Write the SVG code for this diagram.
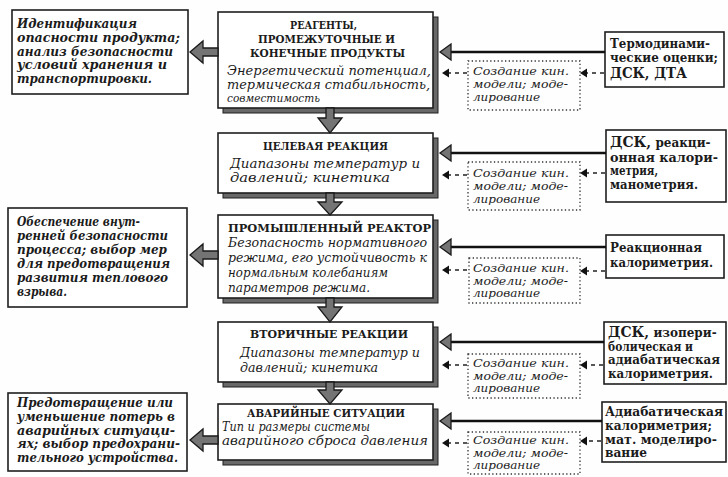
<svg xmlns="http://www.w3.org/2000/svg" width="728" height="477" viewBox="0 0 728 477">
  <style>
    text { font-family: "DejaVu Serif", "Liberation Serif", serif; fill: #1b1b1b; }
    .t { font-size: 10.5px; font-weight: bold; }
    .b { font-size: 13px; font-style: italic; }
    .l { font-size: 12px; font-style: italic; font-weight: bold; }
    .r { font-size: 12px; font-weight: bold; }
    .rb { font-size: 14.5px; font-weight: bold; }
    .m { font-size: 11.5px; font-style: italic; }
    .box { fill: #fff; stroke: #1e1e1e; stroke-width: 1.6; }
    .shadow { fill: #686868; stroke: #1e1e1e; stroke-width: 1; }
    .dot { fill: none; stroke: #333; stroke-width: 1.3; stroke-dasharray: 1.3 2.4; }
    .block { fill: #747474; stroke: #1a1a1a; stroke-width: 1.3; stroke-linejoin: miter; }
    .solid { stroke: #111; stroke-width: 2.6; fill: none; }
    .dash { stroke: #222; stroke-width: 1.6; stroke-dasharray: 4 4; fill: none; }
    .tip { fill: #111; stroke: none; }
  </style>

  <rect x="0" y="0" width="728" height="477" fill="#fefefe"/>

  <!-- Left outcome boxes -->
  <g id="left-1">
    <rect class="box" x="12" y="10" width="176" height="84"/>
    <text class="l" x="17" y="28" textLength="120" lengthAdjust="spacingAndGlyphs">Идентификация</text>
    <text class="l" x="17" y="42" textLength="163" lengthAdjust="spacingAndGlyphs">опасности продукта;</text>
    <text class="l" x="17" y="55.5" textLength="156" lengthAdjust="spacingAndGlyphs">анализ безопасности</text>
    <text class="l" x="17" y="69" textLength="150" lengthAdjust="spacingAndGlyphs">условий хранения и</text>
    <text class="l" x="17" y="83" textLength="135" lengthAdjust="spacingAndGlyphs">транспортировки.</text>
  </g>
  <g id="left-2">
    <rect class="box" x="8" y="208" width="179" height="99"/>
    <text class="l" x="17" y="226" textLength="123" lengthAdjust="spacingAndGlyphs">Обеспечение внут-</text>
    <text class="l" x="17" y="240" textLength="151" lengthAdjust="spacingAndGlyphs">ренней безопасности</text>
    <text class="l" x="17" y="254" textLength="150" lengthAdjust="spacingAndGlyphs">процесса; выбор мер</text>
    <text class="l" x="17" y="268" textLength="153" lengthAdjust="spacingAndGlyphs">для предотвращения</text>
    <text class="l" x="17" y="282" textLength="151" lengthAdjust="spacingAndGlyphs">развития теплового</text>
    <text class="l" x="17" y="296" textLength="50" lengthAdjust="spacingAndGlyphs">взрыва.</text>
  </g>
  <g id="left-3">
    <rect class="box" x="8" y="393" width="179" height="78"/>
    <text class="l" x="17" y="407" textLength="156" lengthAdjust="spacingAndGlyphs">Предотвращение или</text>
    <text class="l" x="17" y="421" textLength="158" lengthAdjust="spacingAndGlyphs">уменьшение потерь в</text>
    <text class="l" x="17" y="434.5" textLength="158" lengthAdjust="spacingAndGlyphs">аварийных ситуаци-</text>
    <text class="l" x="17" y="448" textLength="163" lengthAdjust="spacingAndGlyphs">ях; выбор предохрани-</text>
    <text class="l" x="17" y="462" textLength="161" lengthAdjust="spacingAndGlyphs">тельного устройства.</text>
  </g>

  <!-- Central chain of stages -->
  <g id="stage-reagents">
    <rect class="shadow" x="223" y="17" width="215" height="96"/>
    <rect class="box" x="218" y="12" width="215" height="96"/>
    <text class="t" x="290" y="29" textLength="67" lengthAdjust="spacingAndGlyphs">РЕАГЕНТЫ,</text>
    <text class="t" x="258" y="43" textLength="137" lengthAdjust="spacingAndGlyphs">ПРОМЕЖУТОЧНЫЕ И</text>
    <text class="t" x="250" y="57" textLength="155" lengthAdjust="spacingAndGlyphs">КОНЕЧНЫЕ ПРОДУКТЫ</text>
    <text class="b" x="227" y="75" textLength="204" lengthAdjust="spacingAndGlyphs">Энергетический потенциал,</text>
    <text class="b" x="227" y="89" textLength="203" lengthAdjust="spacingAndGlyphs">термическая стабильность,</text>
    <text class="b" x="227" y="102" textLength="93" lengthAdjust="spacingAndGlyphs" style="font-size:11.5px">совместимость</text>
  </g>
  <g id="stage-target">
    <rect class="shadow" x="223" y="138" width="215" height="60"/>
    <rect class="box" x="218" y="133" width="215" height="60"/>
    <text class="t" x="263" y="150" textLength="125" lengthAdjust="spacingAndGlyphs">ЦЕЛЕВАЯ РЕАКЦИЯ</text>
    <text class="b" x="230" y="168" textLength="190" lengthAdjust="spacingAndGlyphs">Диапазоны температур и</text>
    <text class="b" x="230" y="182" textLength="160" lengthAdjust="spacingAndGlyphs">давлений; кинетика</text>
  </g>
  <g id="stage-reactor">
    <rect class="shadow" x="223" y="220" width="215" height="83"/>
    <rect class="box" x="218" y="215" width="215" height="83"/>
    <text class="t" x="228" y="232" textLength="203" lengthAdjust="spacingAndGlyphs">ПРОМЫШЛЕННЫЙ РЕАКТОР</text>
    <text class="b" x="228" y="246.5" textLength="199" lengthAdjust="spacingAndGlyphs">Безопасность нормативного</text>
    <text class="b" x="228" y="262" textLength="199" lengthAdjust="spacingAndGlyphs">режима, его устойчивость к</text>
    <text class="b" x="228" y="277" textLength="160" lengthAdjust="spacingAndGlyphs">нормальным колебаниям</text>
    <text class="b" x="228" y="292" textLength="142" lengthAdjust="spacingAndGlyphs">параметров режима.</text>
  </g>
  <g id="stage-secondary">
    <rect class="shadow" x="223" y="327" width="215" height="60"/>
    <rect class="box" x="218" y="322" width="215" height="60"/>
    <text class="t" x="250" y="338" textLength="158" lengthAdjust="spacingAndGlyphs">ВТОРИЧНЫЕ РЕАКЦИИ</text>
    <text class="b" x="240" y="357" textLength="180" lengthAdjust="spacingAndGlyphs">Диапазоны температур и</text>
    <text class="b" x="240" y="372" textLength="138" lengthAdjust="spacingAndGlyphs">давлений; кинетика</text>
  </g>
  <g id="stage-emergency">
    <rect class="shadow" x="223" y="409" width="215" height="56"/>
    <rect class="box" x="218" y="404" width="215" height="56"/>
    <text class="t" x="247" y="417" textLength="158" lengthAdjust="spacingAndGlyphs">АВАРИЙНЫЕ СИТУАЦИИ</text>
    <text class="b" x="222" y="431" textLength="148" lengthAdjust="spacingAndGlyphs">Тип и размеры системы</text>
    <text class="b" x="222" y="445" textLength="206" lengthAdjust="spacingAndGlyphs">аварийного сброса давления</text>
  </g>

  <!-- Kinetic modelling boxes (dotted) -->
  <g id="model-1">
    <rect class="dot" x="468" y="61" width="112" height="49"/>
    <text class="m" x="473" y="75" textLength="96" lengthAdjust="spacingAndGlyphs">Создание кин.</text>
    <text class="m" x="473" y="88" textLength="95" lengthAdjust="spacingAndGlyphs">модели; моде-</text>
    <text class="m" x="473" y="101" textLength="67" lengthAdjust="spacingAndGlyphs">лирование</text>
  </g>
  <g id="model-2">
    <rect class="dot" x="468" y="162" width="112" height="48"/>
    <text class="m" x="473" y="177" textLength="96" lengthAdjust="spacingAndGlyphs">Создание кин.</text>
    <text class="m" x="473" y="190" textLength="95" lengthAdjust="spacingAndGlyphs">модели; моде-</text>
    <text class="m" x="473" y="203" textLength="67" lengthAdjust="spacingAndGlyphs">лирование</text>
  </g>
  <g id="model-3">
    <rect class="dot" x="469" y="258" width="111" height="45"/>
    <text class="m" x="473" y="272" textLength="96" lengthAdjust="spacingAndGlyphs">Создание кин.</text>
    <text class="m" x="473" y="284.5" textLength="95" lengthAdjust="spacingAndGlyphs">модели; моде-</text>
    <text class="m" x="473" y="297" textLength="67" lengthAdjust="spacingAndGlyphs">лирование</text>
  </g>
  <g id="model-4">
    <rect class="dot" x="468" y="354" width="112" height="44"/>
    <text class="m" x="473" y="367" textLength="96" lengthAdjust="spacingAndGlyphs">Создание кин.</text>
    <text class="m" x="473" y="379.5" textLength="95" lengthAdjust="spacingAndGlyphs">модели; моде-</text>
    <text class="m" x="473" y="392" textLength="67" lengthAdjust="spacingAndGlyphs">лирование</text>
  </g>
  <g id="model-5">
    <rect class="dot" x="468" y="432" width="112" height="42"/>
    <text class="m" x="473" y="444" textLength="96" lengthAdjust="spacingAndGlyphs">Создание кин.</text>
    <text class="m" x="473" y="456.5" textLength="95" lengthAdjust="spacingAndGlyphs">модели; моде-</text>
    <text class="m" x="473" y="469" textLength="67" lengthAdjust="spacingAndGlyphs">лирование</text>
  </g>

  <!-- Experimental method boxes -->
  <g id="method-1">
    <rect class="box" x="605" y="32" width="119" height="55"/>
    <text class="r" x="610" y="48" textLength="100" lengthAdjust="spacingAndGlyphs">Термодинами-</text>
    <text class="r" x="610" y="62" textLength="108" lengthAdjust="spacingAndGlyphs">ческие оценки;</text>
    <text class="rb" x="610" y="78" textLength="77" lengthAdjust="spacingAndGlyphs">ДСК, ДТА</text>
  </g>
  <g id="method-2">
    <rect class="box" x="606" y="130" width="120" height="72"/>
    <text class="r" x="610" y="147"><tspan style="font-size:14px">ДСК,</tspan> реакци-</text>
    <text class="r" x="610" y="161.5" textLength="108" lengthAdjust="spacingAndGlyphs">онная калори-</text>
    <text class="r" x="610" y="175" textLength="48" lengthAdjust="spacingAndGlyphs">метрия,</text>
    <text class="r" x="610" y="189" textLength="88" lengthAdjust="spacingAndGlyphs">манометрия.</text>
  </g>
  <g id="method-3">
    <rect class="box" x="606" y="235" width="118" height="43"/>
    <text class="r" x="610" y="252" textLength="92" lengthAdjust="spacingAndGlyphs">Реакционная</text>
    <text class="r" x="610" y="267" textLength="103" lengthAdjust="spacingAndGlyphs">калориметрия.</text>
  </g>
  <g id="method-4">
    <rect class="box" x="604" y="322" width="122" height="62"/>
    <text class="r" x="608" y="337"><tspan style="font-size:14px">ДСК,</tspan> изопери-</text>
    <text class="r" x="608" y="350.5" textLength="85" lengthAdjust="spacingAndGlyphs">болическая и</text>
    <text class="r" x="608" y="364" textLength="112" lengthAdjust="spacingAndGlyphs">адиабатическая</text>
    <text class="r" x="608" y="378" textLength="105" lengthAdjust="spacingAndGlyphs">калориметрия.</text>
  </g>
  <g id="method-5">
    <rect class="box" x="602" y="402" width="124" height="60"/>
    <text class="r" x="605" y="416" textLength="118" lengthAdjust="spacingAndGlyphs">Адиабатическая</text>
    <text class="r" x="605" y="430" textLength="107" lengthAdjust="spacingAndGlyphs">калориметрия;</text>
    <text class="r" x="605" y="443.5" textLength="112" lengthAdjust="spacingAndGlyphs">мат. моделиро-</text>
    <text class="r" x="605" y="457" textLength="42" lengthAdjust="spacingAndGlyphs">вание</text>
  </g>

  <!-- Connectors -->
  <g id="connectors">
    <!-- stage to outcome block arrows -->
    <polygon class="block" points="190,52 203,41 203,48 218,48 218,56 203,56 203,63"/>
    <polygon class="block" points="190,255 203,244 203,251 218,251 218,259 203,259 203,266"/>
    <polygon class="block" points="190,440 203,429 203,436 218,436 218,444 203,444 203,451"/>

    <!-- downward arrows between stages -->
    <polygon class="block" points="326,108 334,108 334,118 342,118 330,133 318,118 326,118"/>
    <polygon class="block" points="326,193 334,193 334,202 342,202 330,215 318,202 326,202"/>
    <polygon class="block" points="326,298 334,298 334,307 342,307 330,322 318,307 326,307"/>
    <polygon class="block" points="326,382 334,382 334,390 342,390 330,404 318,390 326,390"/>

    <!-- method to stage solid arrows -->
    <line class="solid" x1="605" y1="52" x2="450" y2="52"/>
    <polygon class="block" points="440,52 451,44 451,60"/>
    <line class="solid" x1="606" y1="153" x2="450" y2="153"/>
    <polygon class="block" points="440,153 451,145 451,161"/>
    <line class="solid" x1="606" y1="247" x2="450" y2="247"/>
    <polygon class="block" points="440,247 451,239 451,255"/>
    <line class="solid" x1="604" y1="342" x2="450" y2="342"/>
    <polygon class="block" points="440,342 451,334 451,350"/>
    <line class="solid" x1="602" y1="421" x2="450" y2="421"/>
    <polygon class="block" points="440,421 451,413 451,429"/>

    <!-- model to stage dashed arrows -->
    <line class="dash" x1="467" y1="73" x2="449" y2="73"/>
    <polygon class="tip" points="442,73 449,68.5 449,77.5"/>
    <line class="dash" x1="467" y1="175" x2="449" y2="175"/>
    <polygon class="tip" points="442,175 449,170.5 449,179.5"/>
    <line class="dash" x1="467" y1="270" x2="449" y2="270"/>
    <polygon class="tip" points="442,270 449,265.5 449,274.5"/>
    <line class="dash" x1="467" y1="365" x2="449" y2="365"/>
    <polygon class="tip" points="442,365 449,360.5 449,369.5"/>
    <line class="dash" x1="467" y1="443" x2="449" y2="443"/>
    <polygon class="tip" points="442,443 449,438.5 449,447.5"/>

    <!-- method to model dashed arrows -->
    <line class="dash" x1="604" y1="73" x2="587" y2="73"/>
    <polygon class="tip" points="580,73 587,68.5 587,77.5"/>
    <line class="dash" x1="605" y1="173" x2="587" y2="173"/>
    <polygon class="tip" points="580,173 587,168.5 587,177.5"/>
    <line class="dash" x1="605" y1="271" x2="587" y2="271"/>
    <polygon class="tip" points="580,271 587,266.5 587,275.5"/>
    <line class="dash" x1="603" y1="365" x2="587" y2="365"/>
    <polygon class="tip" points="580,365 587,360.5 587,369.5"/>
    <line class="dash" x1="601" y1="441" x2="587" y2="441"/>
    <polygon class="tip" points="580,441 587,436.5 587,445.5"/>
  </g>
</svg>
